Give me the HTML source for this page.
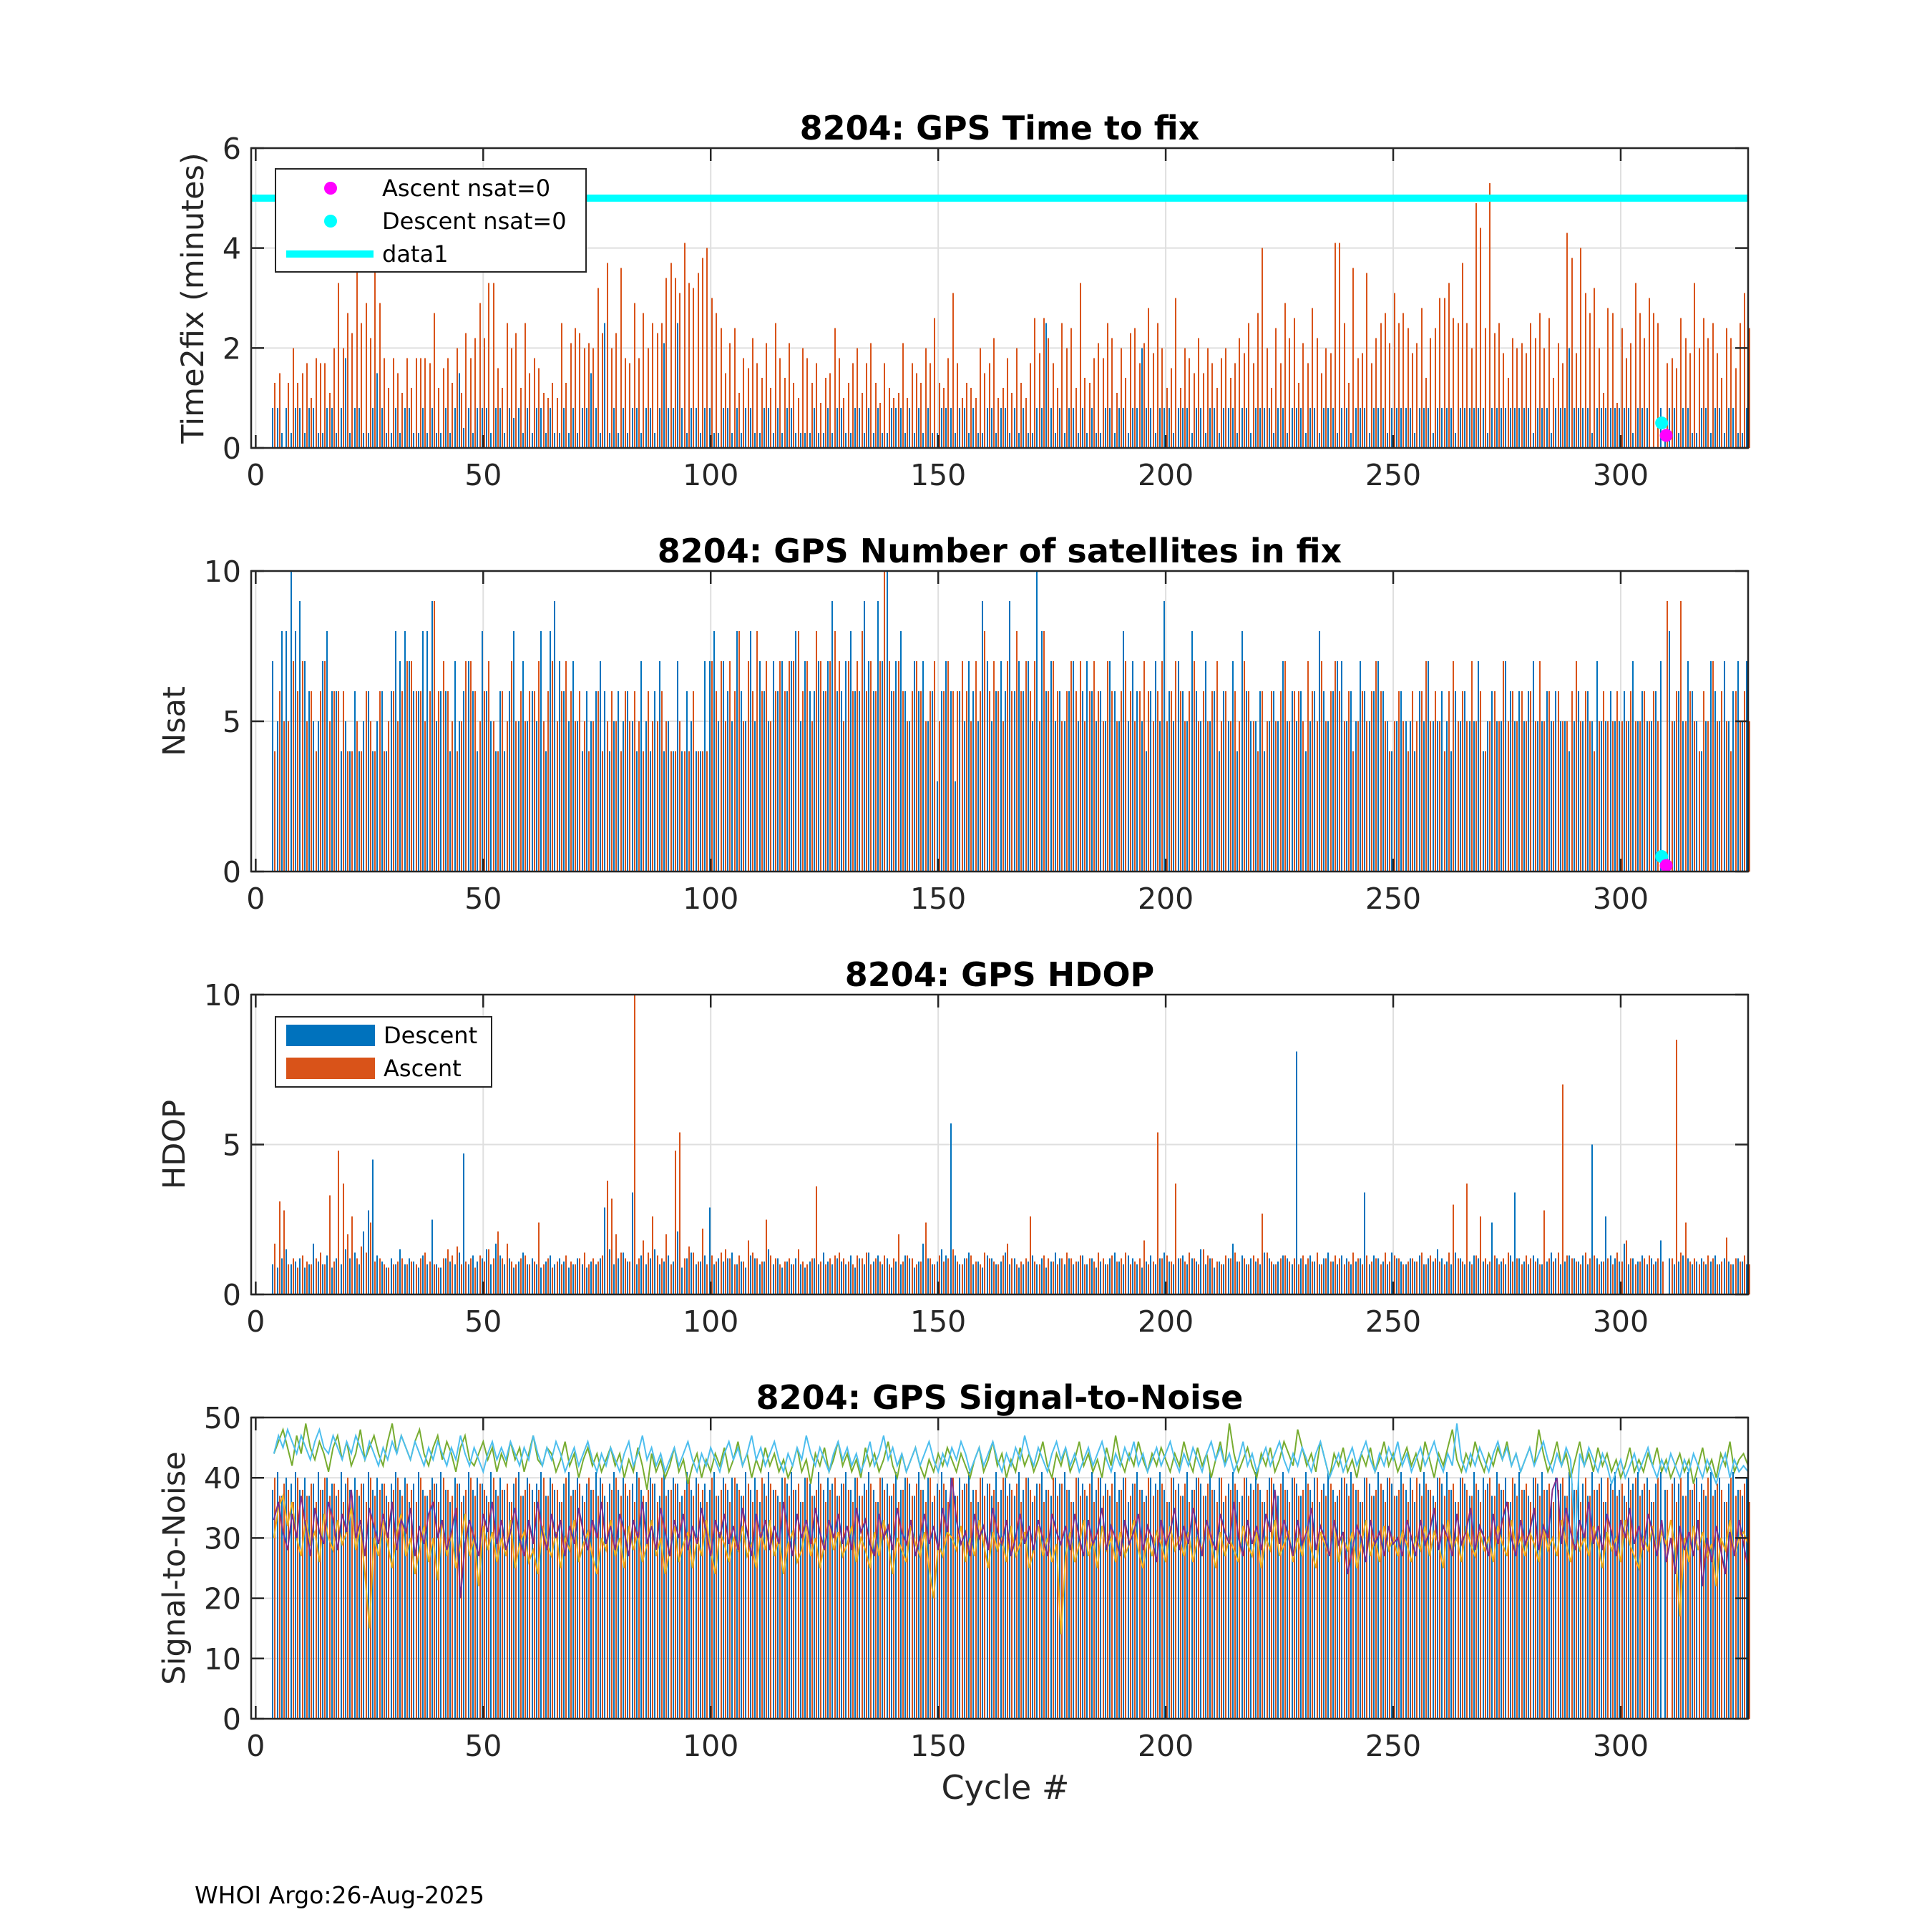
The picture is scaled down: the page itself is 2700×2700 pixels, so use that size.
<!DOCTYPE html>
<html><head><meta charset="utf-8"><style>
html,body{margin:0;padding:0;background:#fff;}
svg{display:block;font-family:"DejaVu Sans","Liberation Sans",sans-serif;}
</style></head><body>
<svg id="fig" width="2700" height="2700" viewBox="0 0 2700 2700" xmlns="http://www.w3.org/2000/svg">
<rect width="2700" height="2700" fill="#fff"/>
<text x="272" y="2660" font-size="33" fill="#000">WHOI Argo:26-Aug-2025</text>
<text x="1405" y="2514" font-size="46" fill="#262626" text-anchor="middle">Cycle #</text>
</svg>
<script>
const firstCycle = 4;
const xTicks = [0,50,100,150,200,250,300];
const t2fDescentTenths = [8,8,3,8,3,8,8,3,8,8,3,3,8,8,3,8,18,3,8,8,3,3,8,15,8,
3,3,8,3,8,8,3,3,8,3,8,3,3,8,3,8,15,4,8,3,8,8,8,3,8,
8,3,8,6,8,3,8,3,8,8,3,8,3,3,8,3,8,3,8,8,15,8,3,25,3,
8,3,8,3,8,8,3,8,8,3,8,21,8,8,25,8,3,8,8,3,8,8,3,3,8,
8,3,8,3,8,8,3,3,8,8,3,8,3,8,8,3,3,3,3,8,3,3,8,3,8,
8,3,3,8,8,3,8,3,8,3,3,8,8,8,3,8,3,8,3,8,3,3,8,8,8,
3,8,8,3,8,3,3,8,8,3,8,8,3,8,3,8,3,3,8,8,25,8,3,8,3,
8,8,3,8,3,8,3,3,8,8,3,8,8,3,8,8,20,8,8,3,8,8,8,3,8,
8,8,3,8,8,3,8,8,3,8,8,8,3,8,8,3,8,8,8,8,3,8,8,3,8,
8,8,3,8,8,3,8,8,8,3,8,8,3,8,8,8,3,8,8,8,3,8,8,8,8,
8,3,8,8,8,3,8,8,8,8,3,8,8,8,8,8,8,3,8,8,8,8,8,8,8,
8,8,3,8,8,8,3,8,8,8,20,8,8,8,8,3,8,8,8,8,8,8,8,8,3,
8,8,8,0,0,8,3,8,8,3,8,8,3,3,8,8,3,8,8,3,8,8,3,3,8];
const t2fAscentTenths = [13,15,0,13,20,13,15,17,10,18,17,17,11,20,33,20,27,23,36,25,29,22,36,29,18,
12,18,15,11,18,12,18,18,18,17,27,12,16,18,13,20,11,23,18,22,29,22,33,33,16,
12,25,20,23,12,25,15,18,16,11,10,13,10,25,13,21,24,23,20,21,20,32,23,37,20,
23,36,18,17,29,18,27,20,25,23,25,34,37,34,31,41,33,32,35,38,40,30,27,24,15,
21,24,11,18,16,22,17,14,21,12,25,18,14,21,13,10,20,18,13,17,9,14,15,24,18,
10,13,17,20,11,17,21,13,9,17,12,10,11,21,10,17,15,13,20,17,26,13,12,18,31,
17,10,13,12,10,20,15,17,22,10,12,18,11,20,13,10,17,26,19,26,22,17,12,25,20,
24,12,33,14,13,18,21,18,25,22,11,20,14,23,24,17,21,28,19,25,20,12,16,30,12,
20,18,15,22,15,20,17,12,18,20,14,17,22,19,25,17,27,40,20,12,24,17,29,22,26,
13,21,17,28,22,15,20,19,41,41,25,13,36,18,19,35,17,22,25,27,21,31,25,27,24,
19,21,28,14,22,24,30,30,33,26,25,37,25,20,49,44,24,53,23,25,19,14,22,20,21,
19,25,22,27,20,26,14,21,17,43,38,19,40,31,27,32,20,11,28,27,9,24,18,21,33,
27,22,30,27,25,0,17,18,16,26,22,19,33,20,26,22,25,19,14,24,22,16,25,31,24];
const nsatDescent = [7,5,8,8,10,8,9,7,6,5,5,7,8,6,6,4,5,4,6,4,5,6,4,5,6,
4,6,8,7,8,7,6,6,8,8,9,5,6,6,4,7,5,6,7,6,4,8,6,5,4,
6,4,6,8,5,7,5,6,5,8,4,8,9,7,6,5,7,5,4,6,5,6,7,6,4,
5,6,5,6,5,4,7,5,4,6,7,4,5,4,7,4,6,5,4,4,7,7,8,5,7,
6,5,8,6,5,8,5,7,6,5,7,6,7,6,7,8,5,7,6,6,7,6,7,9,6,
6,7,8,6,6,9,7,6,9,7,10,6,7,8,6,5,7,6,7,5,6,3,6,7,6,
3,6,5,7,6,5,9,7,5,6,7,6,9,6,7,6,7,5,10,8,6,7,5,6,5,
6,7,5,6,7,6,5,6,5,7,6,5,8,5,7,6,5,4,6,7,5,9,6,5,7,
6,5,8,6,5,7,5,6,4,6,5,7,4,8,6,5,5,6,4,5,6,5,7,5,6,
5,6,4,5,6,8,6,5,6,7,7,5,6,5,7,6,5,6,7,6,5,4,5,6,5,
5,4,6,5,7,5,5,6,5,4,6,5,6,5,5,7,4,5,6,5,5,7,6,5,6,
5,6,7,5,5,6,5,6,5,5,4,5,6,5,6,5,7,5,5,6,5,5,6,5,7,
5,6,5,5,6,7,0,8,5,6,5,7,6,5,4,5,7,6,5,7,5,6,7,5,7];
const nsatAscent = [4,6,5,5,7,6,7,5,6,4,6,7,5,6,6,6,4,4,5,4,6,5,4,6,4,
5,6,5,6,7,7,6,6,5,6,9,6,7,6,5,4,5,7,7,6,5,6,7,5,4,
6,5,7,5,6,5,6,6,7,5,6,7,5,6,7,6,5,6,5,4,5,6,4,5,6,
5,4,6,5,6,5,4,6,5,5,6,5,4,4,5,4,4,6,4,4,4,7,6,7,5,
7,6,8,5,7,6,8,6,7,5,6,7,6,7,7,8,6,7,5,8,7,6,7,8,7,
5,7,6,7,8,6,7,6,7,10,7,6,7,6,5,6,7,6,5,6,7,5,6,7,6,
6,7,6,5,7,6,8,6,7,6,5,7,6,8,6,7,6,7,5,8,6,7,6,5,6,
7,6,7,5,6,7,6,5,7,6,5,6,7,6,5,6,7,6,5,6,7,5,6,7,6,
5,6,7,5,6,5,6,7,5,6,5,6,5,7,6,5,4,6,5,6,5,6,7,5,6,
6,5,7,6,5,7,5,6,7,6,5,6,4,5,6,5,6,7,6,5,4,5,6,5,4,
6,5,6,7,5,6,5,4,6,7,5,6,5,7,5,6,4,5,6,5,7,5,6,5,6,
5,6,5,7,5,6,5,6,5,5,6,7,5,6,5,4,5,6,5,5,6,5,5,6,5,
5,6,5,6,5,0,9,5,6,9,5,6,5,4,6,5,7,5,6,5,4,6,5,6,5];
const hdopDescentTenths = [10,9,12,15,10,11,12,9,10,17,11,10,13,9,12,10,15,12,14,10,21,28,45,13,11,
9,12,10,15,10,12,11,9,13,10,25,10,9,12,11,10,14,47,10,13,11,12,15,10,17,
13,10,12,9,11,14,10,12,10,9,11,13,10,12,11,9,10,12,10,9,11,10,12,29,15,
10,12,14,11,34,10,13,10,12,15,10,11,13,11,21,9,12,14,10,11,13,29,10,12,11,
12,14,10,11,9,13,12,10,11,15,10,12,9,11,10,12,10,9,11,12,10,14,11,10,12,
11,10,13,9,12,10,14,11,13,10,12,9,11,10,13,12,9,11,17,12,10,11,15,13,57,
13,10,12,14,10,11,9,13,12,10,11,14,10,12,9,10,11,13,10,12,9,11,14,12,10,
12,10,11,13,10,12,9,11,10,12,14,11,10,13,12,10,9,11,13,10,12,14,11,10,12,
13,10,12,11,15,10,12,9,11,10,12,17,11,13,10,12,11,10,14,12,10,11,13,12,10,
81,12,10,13,11,10,12,14,11,10,13,12,10,11,12,34,10,13,12,11,10,14,12,11,10,
12,11,13,10,12,11,15,12,11,10,14,12,10,11,13,12,11,10,24,12,11,10,13,34,12,
11,10,13,12,10,11,14,12,10,11,13,12,11,13,10,50,12,11,26,13,12,11,17,10,12,
11,13,10,12,11,18,0,12,10,11,13,12,10,11,12,10,11,13,10,12,11,10,12,11,10];
const hdopAscentTenths = [17,31,28,10,12,9,13,11,10,12,14,10,33,11,48,37,20,26,12,16,14,24,11,12,10,
9,10,11,12,10,11,10,12,14,11,10,9,12,15,13,16,10,11,12,9,13,11,15,12,21,
12,17,11,10,12,13,10,11,24,10,12,9,11,10,13,11,10,12,14,10,12,11,13,38,32,
20,14,12,11,100,12,18,14,26,13,12,20,10,48,54,12,16,14,11,22,10,13,11,14,15,
12,10,13,11,18,14,12,11,25,13,12,10,11,12,10,15,11,10,12,36,11,10,12,13,14,
12,11,10,13,12,14,10,12,11,13,10,12,20,11,13,12,10,11,24,12,10,13,11,12,15,
11,10,12,13,11,10,14,12,11,10,13,17,12,10,11,12,26,11,10,13,12,11,10,12,14,
12,11,13,10,12,11,14,12,10,13,11,12,14,10,11,12,18,10,11,54,12,13,11,37,12,
11,14,12,10,15,13,12,11,10,13,12,14,11,12,10,13,12,27,14,11,10,12,13,11,12,
10,13,12,11,14,10,12,11,13,12,10,11,14,12,10,13,11,12,10,14,11,13,12,10,11,
12,11,14,10,13,12,11,10,14,30,12,11,37,10,13,26,12,11,13,10,12,14,11,12,10,
13,12,11,10,28,12,11,14,70,13,12,11,10,14,12,13,10,11,12,10,14,11,18,12,10,
11,12,13,10,12,11,0,12,85,14,24,11,12,10,11,13,12,10,11,19,10,12,11,13,10];
const snrDescent = [38,41,37,40,39,41,38,40,37,39,41,38,40,39,37,41,39,38,40,37,39,41,38,40,39,
37,39,41,38,40,36,39,41,38,37,40,39,41,38,36,40,39,37,41,38,40,39,37,41,38,
40,38,36,39,41,37,40,38,39,41,37,40,38,36,39,41,38,40,37,39,38,41,40,37,39,
41,38,40,37,39,41,38,36,40,39,37,41,38,40,39,37,41,38,40,36,39,38,41,37,40,
38,40,39,37,41,38,40,36,39,41,38,37,40,39,41,38,36,40,39,37,41,38,40,39,37,
39,41,38,40,37,39,41,38,36,40,39,37,41,38,40,39,37,41,38,40,36,39,41,38,40,
37,40,39,41,38,36,40,39,37,41,38,40,39,37,41,38,40,36,39,41,38,37,40,39,41,
38,36,40,39,37,41,38,40,39,37,41,38,40,36,39,41,38,37,40,39,41,38,36,40,39,
37,41,38,40,39,37,41,38,40,36,39,41,38,37,40,39,41,38,36,40,39,37,41,38,40,
39,37,41,38,40,36,39,41,38,37,40,39,41,38,36,40,39,37,41,38,40,39,37,41,38,
40,36,39,41,38,37,40,39,41,38,36,40,39,37,41,38,40,39,37,41,38,40,36,39,41,
38,37,40,39,41,38,36,40,39,37,41,38,40,39,37,41,38,40,36,39,41,38,37,40,39,
41,38,40,36,39,41,38,0,40,39,37,41,38,40,39,37,41,38,40,36,39,41,38,37,40];
const snrAscent = [40,37,39,38,36,40,38,37,39,36,38,40,37,39,38,36,40,37,38,39,36,40,37,38,39,
36,38,40,37,39,38,36,40,37,38,39,36,40,38,37,39,36,38,40,37,39,38,36,40,37,
38,39,36,40,37,38,39,36,38,40,37,39,38,36,40,37,38,39,36,40,38,37,39,36,38,
40,37,39,38,36,40,37,38,39,36,40,37,38,39,36,38,40,37,39,38,36,40,37,38,39,
36,40,38,37,39,36,38,40,37,39,38,36,40,37,38,39,36,40,37,38,39,36,38,40,37,
39,38,36,40,37,38,39,36,40,38,37,39,36,38,40,37,39,38,36,40,37,38,39,36,40,
37,38,39,36,38,40,37,39,38,36,40,37,38,39,36,40,38,37,39,36,38,40,37,39,38,
36,40,37,38,39,36,40,37,38,39,36,38,40,37,39,38,36,40,37,38,39,36,40,38,37,
39,36,38,40,37,39,38,36,40,37,38,39,36,40,37,38,39,36,38,40,37,39,38,36,40,
37,38,39,36,40,38,37,39,36,38,40,37,39,38,36,40,37,38,39,36,40,37,38,39,36,
38,40,37,39,38,36,40,37,38,39,36,40,38,37,39,36,38,40,37,39,38,36,40,37,38,
39,36,40,37,38,39,36,38,40,37,39,38,36,40,37,38,39,36,40,38,37,39,36,38,40,
37,39,38,36,40,0,38,39,36,40,37,38,39,36,38,40,37,39,38,36,40,37,38,39,36];
const snrGreen = [44,46,48,45,42,47,44,49,45,43,46,44,41,45,47,43,46,42,44,48,43,45,47,44,42,
46,49,44,47,45,43,46,48,44,42,45,47,43,46,44,41,45,47,43,42,44,46,43,45,41,
44,42,46,43,45,41,44,47,43,42,45,44,41,43,46,42,44,40,43,45,42,44,41,43,45,
42,44,40,43,41,45,42,38,44,41,43,40,42,45,41,43,39,42,44,40,43,41,44,42,45,
41,43,46,42,44,40,43,41,45,42,44,41,43,40,42,45,41,43,39,44,42,45,41,43,46,
42,44,41,43,40,45,42,44,41,43,46,42,40,44,41,43,45,42,40,43,41,44,42,45,43,
41,44,42,40,43,45,41,43,46,42,44,40,43,41,45,42,44,41,43,46,42,40,44,42,45,
41,43,46,42,44,41,43,40,45,42,47,43,41,44,42,46,43,41,44,42,45,43,41,44,42,
46,43,41,45,42,44,40,43,46,42,49,44,41,43,45,42,40,44,42,45,41,43,46,44,42,
48,45,42,44,41,46,43,40,44,42,45,41,43,40,44,42,45,41,43,46,42,44,41,43,45,
42,44,41,46,43,40,44,42,45,48,43,41,44,42,46,43,41,44,42,45,43,46,42,44,41,
43,45,42,48,44,41,43,46,42,44,40,43,46,42,44,41,45,42,44,41,43,40,42,45,41,
43,41,44,42,45,41,43,40,42,44,41,43,39,42,45,41,43,40,44,42,46,41,43,44,42];
const snrLightBlue = [44,47,45,48,46,44,47,45,43,46,48,45,44,47,45,43,46,44,47,45,43,46,44,42,45,
43,46,44,47,45,43,46,44,42,45,43,46,44,42,45,43,47,44,42,45,43,41,44,46,43,
45,43,46,44,42,45,43,47,44,42,45,43,46,44,41,43,45,42,44,46,43,41,44,42,45,
43,41,44,46,42,44,47,43,45,42,44,41,43,45,42,44,46,43,41,44,42,45,43,41,44,
46,43,45,42,44,47,43,45,42,44,46,43,41,44,42,45,43,47,44,42,45,43,41,44,46,
43,45,42,44,41,43,46,42,44,47,43,45,42,44,41,43,45,42,44,46,43,41,44,42,45,
43,46,44,41,43,45,42,44,46,43,41,44,42,45,43,47,44,42,45,43,41,44,46,43,45,
42,44,41,43,45,42,44,46,43,41,44,42,45,43,46,42,44,41,43,45,42,44,46,43,41,
44,42,45,43,41,44,46,43,45,42,44,41,43,46,42,44,41,43,45,42,44,46,43,41,44,
42,45,43,41,44,46,43,40,42,44,41,43,45,42,44,46,43,41,44,42,45,43,46,42,44,
41,43,45,42,44,46,43,41,44,42,49,43,41,44,42,45,43,41,44,46,43,45,42,44,41,
43,45,42,44,46,43,41,44,42,45,43,29,44,42,45,43,41,44,42,39,41,43,40,42,44,
41,43,45,42,40,43,41,44,42,40,43,41,44,42,40,43,41,39,42,44,40,43,41,42,41];
const snrPurple = [33,36,31,28,34,30,37,32,27,35,31,29,36,33,28,34,31,38,30,33,27,35,32,29,34,
30,36,28,33,31,35,27,32,29,34,36,30,33,28,31,35,20,29,33,30,27,34,31,36,29,
33,28,31,35,30,27,33,29,36,31,28,34,30,33,27,32,29,35,31,28,33,30,36,29,32,
28,34,31,27,33,30,36,29,32,28,35,31,27,33,30,34,28,32,29,35,31,27,33,30,34,
29,32,28,35,31,27,34,30,33,28,32,29,36,31,27,34,30,33,29,35,31,28,33,30,34,
29,32,28,35,31,33,29,27,34,30,32,28,35,31,29,33,27,30,34,29,32,28,35,31,40,
33,29,31,27,34,30,32,28,35,31,29,33,27,30,34,29,32,28,33,30,27,34,31,29,32,
28,34,30,27,33,29,31,35,28,32,30,27,33,29,31,34,28,32,30,26,33,29,31,35,28,
32,29,35,31,27,33,30,28,34,31,29,36,30,27,33,29,32,28,34,31,38,29,33,30,27,
33,29,31,35,28,32,30,27,33,29,31,24,28,32,30,26,33,29,31,27,32,29,30,27,33,
30,27,33,29,31,35,28,32,30,27,34,29,31,35,28,32,30,27,34,29,33,36,30,27,33,
29,31,35,28,32,30,38,40,29,35,31,28,33,30,36,29,32,28,34,31,27,33,30,35,29,
32,28,34,31,27,33,26,30,24,32,28,31,27,33,22,30,26,32,28,24,31,27,33,29,25];
const snrYellow = [30,35,37,32,36,30,27,33,29,31,26,34,30,28,33,29,31,35,28,32,24,15,30,27,33,
29,25,31,34,27,30,24,28,32,26,30,23,33,27,31,25,29,34,27,30,22,32,28,31,26,
30,27,33,25,29,31,26,28,24,32,29,27,31,25,30,28,33,26,29,31,27,24,30,28,33,
27,30,25,32,28,31,26,29,33,27,30,24,28,32,26,29,31,25,30,27,33,28,24,31,29,
26,30,28,32,27,29,25,31,28,33,27,30,24,29,31,26,28,32,27,30,25,29,33,28,31,
27,29,32,26,30,28,25,31,27,33,29,24,30,28,26,32,29,27,31,25,20,29,27,31,30,
28,32,26,30,27,33,29,25,31,28,30,26,32,27,29,31,25,28,32,27,30,26,29,14,27,
31,26,29,33,27,30,25,32,28,30,26,31,27,29,33,28,25,30,27,31,29,26,32,28,30,
27,31,26,30,28,33,29,25,31,27,30,28,26,32,29,27,31,25,30,28,33,27,29,31,26,
30,27,32,28,25,31,29,27,33,26,30,28,31,25,29,33,27,30,26,32,28,30,27,31,29,
26,30,28,32,27,31,29,25,33,28,30,26,32,29,27,31,28,30,26,32,29,27,33,28,30,
27,31,29,26,32,28,30,27,33,29,26,31,28,30,27,32,29,25,31,28,30,26,33,29,27,
25,30,28,32,27,31,29,33,28,17,30,26,32,28,31,27,29,22,30,28,33,27,30,31,29];
const nsatZeroDescent = [{cycle:309, t2f:0.5, nsat:0.5}];
const nsatZeroAscent = [{cycle:310, t2f:0.25, nsat:0.2}];
const t2fThreshold = 5;

const NS = "http://www.w3.org/2000/svg";
const svg = document.getElementById('fig');
const X0 = 351, X1 = 2443, XMIN = -1, XMAX = 328;
function xs(c){ return X0 + (c - XMIN) / (XMAX - XMIN) * (X1 - X0); }
function el(tag, attrs, parent){ const e = document.createElementNS(NS, tag); for (const k in attrs) e.setAttribute(k, attrs[k]); (parent||svg).appendChild(e); return e; }

const BLUE = "#0072bd", ORANGE = "#d95319";

function makePanel(key, top, bot, ymax, yticks, title, ylabel, ylabelX){
  const g = el('g', {});
  
  
  const ys = v => bot - v / ymax * (bot - top);
  xTicks.forEach(t => {
    const l = el('line', {x1: xs(t), x2: xs(t), y1: top, y2: bot, stroke: '#dfdfdf', 'stroke-width': 2}, g);
    
    
  });
  yticks.forEach(t => {
    const l = el('line', {x1: X0, x2: X1, y1: ys(t), y2: ys(t), stroke: '#dfdfdf', 'stroke-width': 2}, g);
    
    
  });
  const plot = el('g', {}, g);
  
  
  const frame = el('g', {}, g);
  
  
  el('rect', {x: X0, y: top, width: X1 - X0, height: bot - top, fill: 'none', stroke: '#262626', 'stroke-width': 2.5}, frame);
  xTicks.forEach(t => {
    el('line', {x1: xs(t), x2: xs(t), y1: bot, y2: bot - 18, stroke: '#262626', 'stroke-width': 2.5}, frame);
    el('line', {x1: xs(t), x2: xs(t), y1: top, y2: top + 18, stroke: '#262626', 'stroke-width': 2.5}, frame);
    const tx = el('text', {x: xs(t), y: bot + 52, 'font-size': 41, fill: '#262626', 'text-anchor': 'middle'}, frame);
    
    
    tx.textContent = t;
  });
  yticks.forEach(t => {
    el('line', {x1: X0, x2: X0 + 18, y1: ys(t), y2: ys(t), stroke: '#262626', 'stroke-width': 2.5}, frame);
    el('line', {x1: X1, x2: X1 - 18, y1: ys(t), y2: ys(t), stroke: '#262626', 'stroke-width': 2.5}, frame);
    const ty = el('text', {x: X0 - 14, y: ys(t) + 15, 'font-size': 41, fill: '#262626', 'text-anchor': 'end'}, frame);
    
    
    ty.textContent = t;
  });
  const tt = el('text', {x: (X0 + X1) / 2, y: top - 12, 'font-size': 46, 'font-weight': 'bold', fill: '#000', 'text-anchor': 'middle'}, g);
  
  
  tt.textContent = title;
  const yl = el('text', {x: ylabelX, y: (top + bot) / 2, 'font-size': 43, fill: '#262626', 'text-anchor': 'middle', transform: `rotate(-90 ${ylabelX} ${(top + bot) / 2})`}, g);
  
  
  yl.textContent = ylabel;
  return {plot, ys, g};
}

function bars(p, values, scale, offset, color, name){
  values.forEach((v, i) => {
    const val = v * scale;
    if (val <= 0) return;
    const c = firstCycle + i;
    const y = p.ys(val);
    const r = el('rect', {x: Math.round(xs(c) + offset - 1), y: y, width: 2, height: p.ys(0) - y, fill: color, 'shape-rendering': 'crispEdges'}, p.plot);
    
    
  });
}
function line(p, values, color, name){
  const pts = values.map((v, i) => `${xs(firstCycle + i).toFixed(1)},${p.ys(v).toFixed(1)}`).join(' ');
  const pl = el('polyline', {points: pts, fill: 'none', stroke: color, 'stroke-width': 2}, p.plot);
  
  
}
function dot(p, c, v, color, name){
  const d = el('circle', {cx: xs(c), cy: p.ys(v), r: 9, fill: color}, p.plot);
  
  
}

const p1 = makePanel('time-to-fix', 207, 626, 6, [0,2,4,6], '8204: GPS Time to fix', 'Time2fix (minutes)', 284);
bars(p1, t2fDescentTenths, 0.1, -1.6, BLUE, 'bar-descent-t2f');
bars(p1, t2fAscentTenths, 0.1, 1.6, ORANGE, 'bar-ascent-t2f');
const thr = el('line', {x1: X0, x2: X1, y1: p1.ys(t2fThreshold), y2: p1.ys(t2fThreshold), stroke: '#00ffff', 'stroke-width': 10}, p1.plot);


nsatZeroDescent.forEach(d => dot(p1, d.cycle, d.t2f, '#00ffff', 'descent-nsat0-marker'));
nsatZeroAscent.forEach(d => dot(p1, d.cycle, d.t2f, '#ff00ff', 'ascent-nsat0-marker'));

const p2 = makePanel('nsat', 798, 1218, 10, [0,5,10], '8204: GPS Number of satellites in fix', 'Nsat', 258);
bars(p2, nsatDescent, 1, -1.6, BLUE, 'bar-descent-nsat');
bars(p2, nsatAscent, 1, 1.6, ORANGE, 'bar-ascent-nsat');
nsatZeroDescent.forEach(d => dot(p2, d.cycle, d.nsat, '#00ffff', 'descent-nsat0-marker'));
nsatZeroAscent.forEach(d => dot(p2, d.cycle, d.nsat, '#ff00ff', 'ascent-nsat0-marker'));

const p3 = makePanel('hdop', 1390, 1809, 10, [0,5,10], '8204: GPS HDOP', 'HDOP', 258);
bars(p3, hdopDescentTenths, 0.1, -1.6, BLUE, 'bar-descent-hdop');
bars(p3, hdopAscentTenths, 0.1, 1.6, ORANGE, 'bar-ascent-hdop');

const p4 = makePanel('snr', 1981, 2402, 50, [0,10,20,30,40,50], '8204: GPS Signal-to-Noise', 'Signal-to-Noise', 258);
bars(p4, snrDescent, 1, -1.6, BLUE, 'bar-descent-snr');
bars(p4, snrAscent, 1, 1.6, ORANGE, 'bar-ascent-snr');
line(p4, snrYellow, '#edb120', 'snr-line-yellow');
line(p4, snrPurple, '#7e2f8e', 'snr-line-purple');
line(p4, snrGreen, '#77ac30', 'snr-line-green');
line(p4, snrLightBlue, '#4dbeee', 'snr-line-lightblue');

(function(){
  const lg = el('g', {});
  
  
  el('rect', {x: 385, y: 236, width: 434, height: 144, fill: '#fff', stroke: '#262626', 'stroke-width': 2}, lg);
  const rows = [['Ascent nsat=0', '#ff00ff', 'dot'], ['Descent nsat=0', '#00ffff', 'dot'], ['data1', '#00ffff', 'line']];
  rows.forEach((r, i) => {
    const y = 263 + i * 46;
    const e = el('g', {}, lg);
    
    
    if (r[2] === 'dot') el('circle', {cx: 462, cy: y, r: 9, fill: r[1]}, e);
    else el('line', {x1: 400, x2: 522, y1: y, y2: y, stroke: r[1], 'stroke-width': 10}, e);
    const t = el('text', {x: 534, y: y + 11, 'font-size': 32, fill: '#000'}, e);
    t.textContent = r[0];
  });
})();
(function(){
  const lg = el('g', {});
  
  
  el('rect', {x: 385, y: 1421, width: 302, height: 98, fill: '#fff', stroke: '#262626', 'stroke-width': 2}, lg);
  [['Descent', BLUE], ['Ascent', ORANGE]].forEach((r, i) => {
    const y = 1447 + i * 46;
    const e = el('g', {}, lg);
    
    
    el('rect', {x: 400, y: y - 15, width: 124, height: 30, fill: r[1]}, e);
    const t = el('text', {x: 536, y: y + 11, 'font-size': 32, fill: '#000'}, e);
    t.textContent = r[0];
  });
})();
</script>
</body></html>
